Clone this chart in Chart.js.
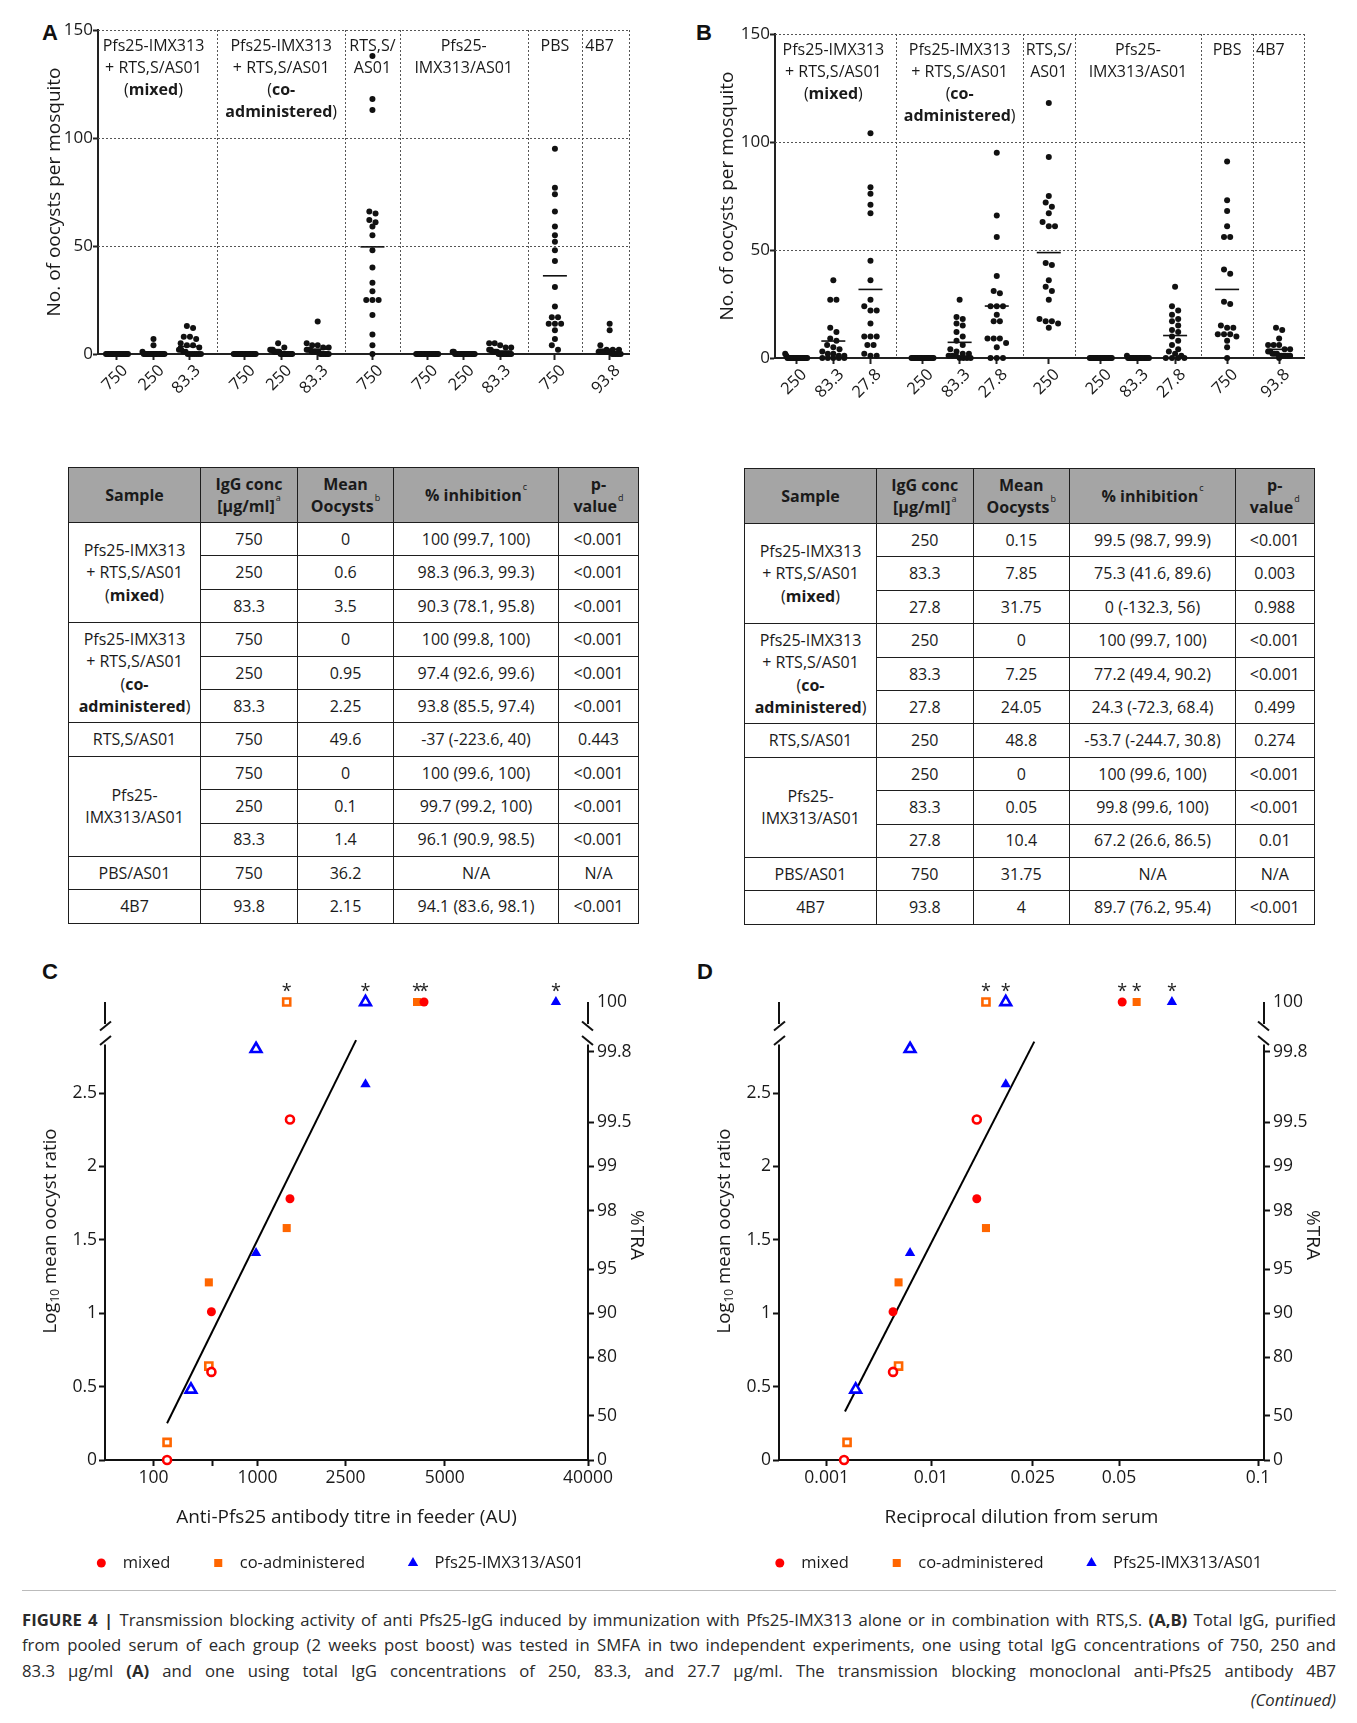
<!DOCTYPE html>
<html><head><meta charset="utf-8"><title>Figure 4</title>
<script src="https://cdn.jsdelivr.net/npm/chart.js@4.4.1/dist/chart.umd.min.js"></script>
<style>
html,body{margin:0;padding:0;background:#fff}
body{position:relative;width:1357px;height:1723px;overflow:hidden;font-family:'Open Sans',sans-serif;color:#1a1a1a}
canvas{position:absolute}
.lbl{position:absolute;font:bold 22px 'Liberation Sans',Arial,sans-serif;color:#111;line-height:24px}
table.t{position:absolute;border-collapse:collapse;table-layout:fixed;font-size:16px;line-height:22.5px;color:#1a1a1a}
table.t td,table.t th{border:1.5px solid #1e1e1e;text-align:center;vertical-align:middle;padding:0;overflow:visible;white-space:nowrap}
table.t th{background:#a5a5a5;font-weight:bold}
table.t sup{font-size:9px;line-height:0;vertical-align:top;position:relative;top:3px;font-weight:normal;margin-left:1px}
.rule{position:absolute;left:22px;width:1314px;top:1590px;height:0;border-top:1px solid #bbb}
.cap{position:absolute;left:22px;top:1607px;width:1314px;font-size:16.7px;line-height:25.3px;color:#2a2a2a}
.cap .j{text-align:justify;text-align-last:justify}
.cap .r{text-align:right;font-style:italic;margin-top:4px}
</style></head>
<body>
<div class="lbl" style="left:42px;top:21px">A</div>
<div class="lbl" style="left:696px;top:21px">B</div>
<div class="lbl" style="left:42px;top:960px">C</div>
<div class="lbl" style="left:697px;top:960px">D</div>
<canvas id="cA" width="680" height="440" style="left:0;top:0"></canvas>
<canvas id="cB" width="677" height="440" style="left:680px;top:0"></canvas>
<table class="t" id="tA" style="left:68px;top:467px"></table>
<table class="t" id="tB" style="left:744px;top:468px"></table>
<canvas id="cC" width="680" height="660" style="left:0;top:940px"></canvas>
<canvas id="cD" width="677" height="660" style="left:680px;top:940px"></canvas>
<div class="rule"></div>
<div class="cap">
<div class="j"><b>FIGURE 4 |</b> Transmission blocking activity of anti Pfs25-IgG induced by immunization with Pfs25-IMX313 alone or in combination with RTS,S. <b>(A,B)</b> Total IgG, purified</div>
<div class="j">from pooled serum of each group (2 weeks post boost) was tested in SMFA in two independent experiments, one using total IgG concentrations of 750, 250 and</div>
<div class="j">83.3 μg/ml <b>(A)</b> and one using total IgG concentrations of 250, 83.3, and 27.7 μg/ml. The transmission blocking monoclonal anti-Pfs25 antibody 4B7</div>
<div class="r">(Continued)</div>
</div>
<script>
// ---------------- DATA: panels A & B (oocysts per mosquito) ----------------
const groupTitles = [
  ['Pfs25-IMX313', '+ RTS,S/AS01', '(**mixed**)'],
  ['Pfs25-IMX313', '+ RTS,S/AS01', '(**co-**', '**administered**)'],
  ['RTS,S/', 'AS01'],
  ['Pfs25-', 'IMX313/AS01'],
  ['PBS'],
  ['4B7']
];
const oocystTicks = [0, 50, 100, 150];
const aConcs = [['750', '250', '83.3'], ['750', '250', '83.3'], ['750'], ['750', '250', '83.3'], ['750'], ['93.8']];
const aValues = [
  [0,0,0,0,0,0,0,0,0,0,0,0,0,0,0,0,0,0,0,0],
  [7,4,1,0,0,0,0,0,0,0,0,0,0,0,0,0,0,0,0,0],
  [13,12,8,8,7,5,4,4,3,2,2,1,1,0,0,0,0,0,0,0],
  [0,0,0,0,0,0,0,0,0,0,0,0,0,0,0,0,0,0,0,0],
  [5,3,2,2,2,1,1,1,1,1,0,0,0,0,0,0,0,0,0,0],
  [15,5,4,4,3,3,2,2,2,1,1,1,1,1,0,0,0,0,0,0],
  [138,118,113,66,65,62,61,59,55,48,40,33,29,25,25,25,18,9,4,0],
  [0,0,0,0,0,0,0,0,0,0,0,0,0,0,0,0,0,0,0,0],
  [1,1,0,0,0,0,0,0,0,0,0,0,0,0,0,0,0,0,0,0],
  [5,5,4,3,3,2,2,1,1,1,1,0,0,0,0,0,0,0,0,0],
  [95,77,74,66,59,55,52,48,43,31,22,17,17,14,14,14,11,7,4,2],
  [14,11,4,2,2,2,1,1,1,1,1,1,1,1,0,0,0,0,0,0]
];
const aMeans = [0, 0.6, 3.5, 0, 0.95, 2.25, 49.6, 0, 0.1, 1.4, 36.2, 2.15];

const bConcs = [['250', '83.3', '27.8'], ['250', '83.3', '27.8'], ['250'], ['250', '83.3', '27.8'], ['750'], ['93.8']];
const bValues = [
  [2,1,0,0,0,0,0,0,0,0,0,0,0,0,0,0,0,0,0,0],
  [36,27,27,14,12,9,8,6,5,4,3,2,2,1,1,0,0,0,0,0],
  [104,79,76,71,67,45,36,27,24,22,22,16,10,10,10,6,6,2,1,1],
  [0,0,0,0,0,0,0,0,0,0,0,0,0,0,0,0,0,0,0,0],
  [27,19,18,16,15,12,10,8,6,4,3,2,2,1,1,1,0,0,0,0],
  [95,66,56,38,31,30,24,24,24,20,17,17,9,9,9,7,5,0,0,0],
  [118,93,75,72,70,67,63,61,61,44,43,36,33,31,27,18,17,17,16,14],
  [0,0,0,0,0,0,0,0,0,0,0,0,0,0,0,0,0,0,0,0],
  [1,0,0,0,0,0,0,0,0,0,0,0,0,0,0,0,0,0,0,0],
  [33,24,22,20,18,17,15,13,12,10,8,6,4,3,2,1,0,0,0,0],
  [91,73,68,61,56,56,41,39,26,25,15,14,14,11,11,11,10,8,5,0],
  [14,13,9,6,6,6,4,4,3,3,2,2,2,1,1,1,1,1,1,0]
];
const bMeans = [0.15, 7.85, 31.75, 0, 7.25, 24.05, 48.8, 0, 0.05, 10.4, 31.75, 4];

// ---------------- DATA: tables ----------------
const tableHead = ['Sample', 'IgG conc<br>[µg/ml]<sup>a</sup>', 'Mean<br>Oocysts<sup>b</sup>', '% inhibition<sup>c</sup>', 'p-<br>value<sup>d</sup>'];
const tableSamples = [
  ['Pfs25-IMX313<br>+ RTS,S/AS01<br>(<b>mixed</b>)', 3],
  ['Pfs25-IMX313<br>+ RTS,S/AS01<br>(<b>co-<br>administered</b>)', 3],
  ['RTS,S/AS01', 1],
  ['Pfs25-<br>IMX313/AS01', 3],
  ['PBS/AS01', 1],
  ['4B7', 1]
];
const tableARows = [
  ['750', '0', '100 (99.7, 100)', '<0.001'],
  ['250', '0.6', '98.3 (96.3, 99.3)', '<0.001'],
  ['83.3', '3.5', '90.3 (78.1, 95.8)', '<0.001'],
  ['750', '0', '100 (99.8, 100)', '<0.001'],
  ['250', '0.95', '97.4 (92.6, 99.6)', '<0.001'],
  ['83.3', '2.25', '93.8 (85.5, 97.4)', '<0.001'],
  ['750', '49.6', '-37 (-223.6, 40)', '0.443'],
  ['750', '0', '100 (99.6, 100)', '<0.001'],
  ['250', '0.1', '99.7 (99.2, 100)', '<0.001'],
  ['83.3', '1.4', '96.1 (90.9, 98.5)', '<0.001'],
  ['750', '36.2', 'N/A', 'N/A'],
  ['93.8', '2.15', '94.1 (83.6, 98.1)', '<0.001']
];
const tableBRows = [
  ['250', '0.15', '99.5 (98.7, 99.9)', '<0.001'],
  ['83.3', '7.85', '75.3 (41.6, 89.6)', '0.003'],
  ['27.8', '31.75', '0 (-132.3, 56)', '0.988'],
  ['250', '0', '100 (99.7, 100)', '<0.001'],
  ['83.3', '7.25', '77.2 (49.4, 90.2)', '<0.001'],
  ['27.8', '24.05', '24.3 (-72.3, 68.4)', '0.499'],
  ['250', '48.8', '-53.7 (-244.7, 30.8)', '0.274'],
  ['250', '0', '100 (99.6, 100)', '<0.001'],
  ['83.3', '0.05', '99.8 (99.6, 100)', '<0.001'],
  ['27.8', '10.4', '67.2 (26.6, 86.5)', '0.01'],
  ['750', '31.75', 'N/A', 'N/A'],
  ['93.8', '4', '89.7 (76.2, 95.4)', '<0.001']
];

// ---------------- DATA: panels C & D (log10 mean oocyst ratio) ----------------
const Y_TOP = 3.12; // plotted position of 100 %TRA (above the axis break)
const logTicks = [0, 0.5, 1, 1.5, 2, 2.5];
const logTickLabels = ['0', '0.5', '1', '1.5', '2', '2.5'];
const traTickPos = [0, 0.301, 0.699, 1, 1.301, 1.699, 2, 2.301, 2.78, 3.12];
const traTickLabels = ['0', '50', '80', '90', '95', '98', '99', '99.5', '99.8', '100'];

const seriesNames = ['mixed', 'co-administered', 'Pfs25-IMX313/AS01'];
// filled = experiment A (750, 250, 83.3 µg/ml), open = experiment B (250, 83.3, 27.8 µg/ml)
const ratioMixedA = [Y_TOP, 1.78, 1.01];
const ratioMixedB = [2.32, 0.60, 0];
const ratioCoA = [Y_TOP, 1.58, 1.21];
const ratioCoB = [Y_TOP, 0.64, 0.12];
const ratioPfsA = [Y_TOP, 2.56, 1.41];
const ratioPfsB = [Y_TOP, 2.80, 0.48];

const titreTicks = [100, 365, 1000, 2500, 5000, 40000];
const titreTickLabels = ['100', '', '1000', '2500', '5000', '40000'];
const titreMixedA = [4324, 1401, 360];
const titreMixedB = [1401, 360, 135];
const titreCoA = [4118, 1354, 340];
const titreCoB = [1354, 340, 135];
const titrePfsA = [25100, 2873, 966];
const titrePfsB = [2873, 966, 229];
const titreFitX = [135, 2690];
const titreFitY = [0.25, 2.86];

const dilTicks = [0.001, 0.01, 0.025, 0.05, 0.1];
const dilTickLabels = ['0.001', '0.01', '0.025', '0.05', '0.1'];
const dilMixedA = [0.0508, 0.0151, 0.00433];
const dilMixedB = [0.0151, 0.00433, 0.00147];
const dilCoA = [0.0546, 0.0164, 0.00489];
const dilCoB = [0.0164, 0.00489, 0.00157];
const dilPfsA = [0.0651, 0.0196, 0.0063];
const dilPfsB = [0.0196, 0.0063, 0.0019];
const dilFitX = [0.0015, 0.0253];
const dilFitY = [0.33, 2.85];

// ---------------- tables ----------------
function buildTable(id, rows, widths) {
  const t = document.getElementById(id);
  let h = '<colgroup>' + widths.map(w => `<col style="width:${w}px">`).join('') + '</colgroup>';
  h += '<tr style="height:55px">' + tableHead.map(x => `<th>${x}</th>`).join('') + '</tr>';
  let r = 0;
  tableSamples.forEach(([html, span]) => {
    for (let k = 0; k < span; k++, r++) {
      h += '<tr style="height:33.4px">';
      if (k === 0) h += `<td rowspan="${span}">${html}</td>`;
      h += rows[r].map(c => `<td>${c.replace('<', '&lt;')}</td>`).join('') + '</tr>';
    }
  });
  t.innerHTML = h;
  t.style.width = widths.reduce((a, b) => a + b, 0) + 'px';
}
buildTable('tA', tableARows, [132, 97, 96, 165, 80]);
buildTable('tB', tableBRows, [132, 96.5, 96.5, 166, 78.5]);

// ---------------- Chart.js setup ----------------
Chart.defaults.font.family = "'Open Sans', sans-serif";
Chart.defaults.color = '#1a1a1a';
const FONT = "'Open Sans', sans-serif";

function drawRich(ctx, line, x0, y, size, align) {
  const parts = line.split('**');
  const fonts = parts.map((p, i) => `${i % 2 ? 'bold ' : ''}${size}px ${FONT}`);
  let w = 0;
  const ws = parts.map((p, i) => { ctx.font = fonts[i]; const m = ctx.measureText(p).width; w += m; return m; });
  let x = align === 'left' ? x0 : x0 - w / 2;
  parts.forEach((p, i) => { ctx.font = fonts[i]; ctx.fillText(p, x, y); x += ws[i]; });
}

function swarm(vals, center, pxX, pxY, d, maxW) {
  const s = vals.slice().sort((a, b) => b - a);
  const rows = [];
  s.forEach(v => {
    const r = rows[rows.length - 1];
    if (r && (r.v0 - v) * pxY < d * 0.9) r.items.push(v); else rows.push({v0: v, items: [v]});
  });
  const pts = [];
  rows.forEach(r => {
    const k = r.items.length;
    const sp = k > 1 ? Math.min(d, maxW / (k - 1)) : 0;
    r.items.forEach((v, i) => pts.push({x: center + (i - (k - 1) / 2) * sp / pxX, y: v}));
  });
  return pts;
}

const dotDecor = {
  id: 'dotDecor',
  beforeDatasetsDraw(chart, args, o) {
    const {ctx, chartArea: a, scales: {x, y}} = chart;
    ctx.save();
    ctx.strokeStyle = '#555'; ctx.lineWidth = 1; ctx.setLineDash([2, 2]);
    const ln = (x1, y1, x2, y2) => { ctx.beginPath(); ctx.moveTo(x1, y1); ctx.lineTo(x2, y2); ctx.stroke(); };
    y.ticks.forEach(t => { if (t.value > 0) { const py = Math.round(y.getPixelForValue(t.value)) + 0.5; ln(a.left, py, a.right, py); } });
    o.seps.forEach(s => { const px = Math.round(x.getPixelForValue(s)) + 0.5; ln(px, a.top, px, a.bottom); });
    const rx = Math.round(a.right) + 0.5; ln(rx, a.top, rx, a.bottom);
    ctx.setLineDash([]);
    ctx.fillStyle = '#1a1a1a'; ctx.textBaseline = 'middle'; ctx.textAlign = 'left';
    o.titles.forEach((lines, gi) => {
      const g = o.groups[gi];
      let cx = x.getPixelForValue((g.first + g.last) / 2), align = 'center';
      if (gi === o.titles.length - 1) { cx = x.getPixelForValue(o.seps[gi - 1]) + 3; align = 'left'; }
      lines.forEach((l, li) => drawRich(ctx, l, cx, a.top + 16 + li * 22, 16, align));
    });
    ctx.save();
    ctx.translate(a.left - o.yTitleOff, (a.top + a.bottom) / 2); ctx.rotate(-Math.PI / 2);
    ctx.font = `19px ${FONT}`; ctx.textAlign = 'center'; ctx.fillText('No. of oocysts per mosquito', 0, 0);
    ctx.restore();
    ctx.restore();
  }
};

function makeDotPlot(id, cfg) {
  const {concs, values, means, gap, xPad, area, W, H, yTitleOff} = cfg;
  const colPos = [], groups = [];
  let cur = 0;
  concs.forEach((g, gi) => {
    if (gi > 0) cur += gap;
    const first = cur;
    g.forEach((c, ci) => { if (ci > 0) cur += 1; colPos.push(cur); });
    groups.push({first, last: cur});
  });
  const seps = groups.slice(1).map((g, i) => (groups[i].last + g.first) / 2);
  const xMin = -xPad[0], xMax = cur + xPad[1];
  const pxX = (area.right - area.left) / (xMax - xMin);
  const pxY = (area.bottom - area.top) / 150;
  const labels = concs.flat();
  const dots = [];
  values.forEach((v, i) => dots.push(...swarm(v, colPos[i], pxX, pxY, 6.2, 22)));
  const meanPts = means.map((m, i) => ({x: colPos[i], y: m}));
  new Chart(document.getElementById(id), {
    type: 'scatter',
    data: {datasets: [
      {data: meanPts, pointStyle: 'line', pointRadius: 12, pointBorderColor: '#111', pointBorderWidth: 1.6, clip: false},
      {data: dots, pointStyle: 'circle', pointRadius: 3, pointBackgroundColor: '#111', pointBorderColor: '#111', pointBorderWidth: 0, clip: false}
    ]},
    options: {
      responsive: false, animation: false, devicePixelRatio: 1,
      layout: {padding: {top: area.top, right: W - area.right, left: 0, bottom: 0}},
      scales: {
        x: {type: 'linear', min: xMin, max: xMax,
          afterBuildTicks: s => { s.ticks = colPos.map(v => ({value: v})); },
          afterFit: s => { s.height = H - area.bottom; },
          ticks: {autoSkip: false, minRotation: 45, maxRotation: 45, labelOffset: 8, padding: 1, font: {size: 16.5}, color: '#1a1a1a',
            callback: (v, i) => labels[i]},
          grid: {drawOnChartArea: false, drawTicks: true, tickLength: 6, tickColor: '#222', tickWidth: 2},
          border: {display: true, color: '#222', width: 2}},
        y: {type: 'linear', min: 0, max: 150,
          afterBuildTicks: s => { s.ticks = oocystTicks.map(v => ({value: v})); },
          afterFit: s => { s.width = area.left; },
          ticks: {font: {size: 17}, padding: 0, color: '#1a1a1a'},
          grid: {drawOnChartArea: false, drawTicks: true, tickLength: 5, tickColor: '#222', tickWidth: 2},
          border: {display: true, color: '#222', width: 2}}
      },
      plugins: {legend: {display: false}, tooltip: {enabled: false},
        dotDecor: {seps, groups, titles: groupTitles, yTitleOff}}
    },
    plugins: [dotDecor]
  });
}

makeDotPlot('cA', {concs: aConcs, values: aValues, means: aMeans, gap: 1.5, xPad: [0.52, 0.53],
  area: {left: 98, top: 30, right: 629, bottom: 354}, W: 680, H: 440, yTitleOff: 43});
makeDotPlot('cB', {concs: bConcs, values: bValues, means: bMeans, gap: 1.4, xPad: [0.57, 0.67],
  area: {left: 95, top: 34, right: 624, bottom: 358}, W: 677, H: 440, yTitleOff: 47});

// ---------- segmented (broken log) x scale used by panels C and D ----------
class SegmentedScale extends Chart.LinearScale {
  static id = 'segmented';
  static defaults = {};
  determineDataLimits() {
    const b = this.options.breaks;
    this.min = b[0]; this.max = b[b.length - 1];
  }
  buildTicks() { return this.options.tickValues.map(v => ({value: v})); }
  _dec(value) {
    const b = this.options.breaks, w = this.options.weights;
    const tot = w.reduce((s, c) => s + c, 0);
    let acc = 0;
    for (let i = 0; i < w.length; i++) {
      if (value <= b[i + 1] || i === w.length - 1) {
        const t = (Math.log(value) - Math.log(b[i])) / (Math.log(b[i + 1]) - Math.log(b[i]));
        return (acc + t * w[i]) / tot;
      }
      acc += w[i];
    }
    return 1;
  }
  getPixelForValue(value) { return this.getPixelForDecimal(this._dec(value)); }
  getValueForPixel(pixel) {
    const d = this.getDecimalForPixel(pixel);
    const b = this.options.breaks, w = this.options.weights;
    const tot = w.reduce((s, c) => s + c, 0);
    let acc = 0;
    for (let i = 0; i < w.length; i++) {
      const f = w[i] / tot;
      if (d <= acc + f || i === w.length - 1) {
        const t = (d - acc) / f;
        return Math.exp(Math.log(b[i]) + t * (Math.log(b[i + 1]) - Math.log(b[i])));
      }
      acc += f;
    }
    return b[b.length - 1];
  }
}
Chart.register(SegmentedScale);

const traDecor = {
  id: 'traDecor',
  beforeDatasetsDraw(chart, args, o) {
    const {ctx, chartArea: a} = chart;
    const y = chart.scales.y;
    ctx.save();
    ctx.strokeStyle = '#111'; ctx.lineWidth = 2;
    const seg = (x1, y1, x2, y2) => { ctx.beginPath(); ctx.moveTo(x1, y1); ctx.lineTo(x2, y2); ctx.stroke(); };
    [[a.left, 1], [a.right, -1]].forEach(([ax, dir]) => {
      seg(ax, a.bottom + 1, ax, y.getPixelForValue(2.83));
      seg(ax, y.getPixelForValue(2.97), ax, y.getPixelForValue(Y_TOP));
      [2.956, 2.858].forEach(v => {
        const py = y.getPixelForValue(v);
        seg(ax - 5 * dir, py + 4.5, ax + 6 * dir, py - 4.5);
      });
    });
    ctx.restore();
  },
  afterDatasetsDraw(chart, args, o) {
    const {ctx, chartArea: a} = chart;
    ctx.save();
    // significance asterisks above 100 %TRA points
    ctx.fillStyle = '#222'; ctx.font = `18px ${FONT}`; ctx.textAlign = 'center'; ctx.textBaseline = 'alphabetic';
    chart.data.datasets.forEach((d, di) => {
      const meta = chart.getDatasetMeta(di);
      d.data.forEach((p, pi) => { if (p.y === Y_TOP) { const el = meta.data[pi]; ctx.fillText('*', el.x, el.y - 5); } });
    });
    ctx.fillStyle = '#1a1a1a'; ctx.textBaseline = 'middle';
    // left title with subscript
    ctx.save();
    ctx.translate(a.left - 54, (a.top + a.bottom) / 2); ctx.rotate(-Math.PI / 2);
    const parts = [['Log', 18.6, 0], ['10', 12, 5], [' mean oocyst ratio', 18.6, 0]];
    let tw = 0;
    const ws = parts.map(([t, s]) => { ctx.font = `${s}px ${FONT}`; const m = ctx.measureText(t).width; tw += m; return m; });
    let x = -tw / 2; ctx.textAlign = 'left';
    parts.forEach(([t, s, dy], i) => { ctx.font = `${s}px ${FONT}`; ctx.fillText(t, x, dy); x += ws[i]; });
    ctx.restore();
    // right title
    ctx.save();
    ctx.translate(a.right + 48, (a.top + a.bottom) / 2 + 4); ctx.rotate(Math.PI / 2);
    ctx.font = `19px ${FONT}`; ctx.textAlign = 'center'; ctx.fillText('%TRA', 0, 0);
    ctx.restore();
    // x title
    ctx.font = `19px ${FONT}`; ctx.textAlign = 'center';
    ctx.fillText(o.xTitle, (a.left + a.right) / 2, a.bottom + 58);
    // legend
    const items = chart.data.datasets.filter(d => d.legendLabel);
    ctx.font = `16.5px ${FONT}`; ctx.textAlign = 'left';
    const widths = items.map(d => ctx.measureText(d.legendLabel).width);
    const symGap = 21.5, itemGap = 48, half = 5;
    const total = half + items.reduce((s, d, i) => s + symGap + widths[i] + (i < items.length - 1 ? itemGap : 0), 0);
    let cx = chart.width / 2 - total / 2 + half;
    const ly = a.bottom + 103;
    items.forEach((d, i) => {
      ctx.fillStyle = d.pointBackgroundColor;
      Chart.helpers.drawPoint(ctx, {pointStyle: d.pointStyle, radius: d.pointRadius, borderWidth: 0, rotation: 0}, cx, ly);
      ctx.fillStyle = '#1a1a1a';
      ctx.fillText(d.legendLabel, cx + symGap, ly);
      cx += symGap + widths[i] + itemGap;
    });
    ctx.restore();
  }
};

const styles = [
  {style: 'circle', color: '#ff0000', r: 4.5, rOpen: 4},
  {style: 'rect', color: '#ff6600', r: 5.7, rOpen: 5},
  {style: 'triangle', color: '#0000ff', r: 6, rOpen: 6.2}
];

function makeTRA(id, cfg) {
  const {W, H, area, breaks, weights, ticks, tickLabels, xs, ys, fitX, fitY, xTitle} = cfg;
  const datasets = [];
  xs.forEach((pair, si) => {
    const st = styles[si];
    datasets.push({data: pair[0].map((x, i) => ({x, y: ys[si][0][i]})), pointStyle: st.style, pointRadius: st.r,
      pointBackgroundColor: st.color, pointBorderColor: st.color, pointBorderWidth: 0, clip: false, legendLabel: seriesNames[si]});
    datasets.push({data: pair[1].map((x, i) => ({x, y: ys[si][1][i]})), pointStyle: st.style, pointRadius: st.rOpen,
      pointBackgroundColor: '#ffffff', pointBorderColor: st.color, pointBorderWidth: 2.6, clip: false});
  });
  datasets.push({data: fitX.map((x, i) => ({x, y: fitY[i]})), showLine: true, borderColor: '#000', borderWidth: 2, pointRadius: 0, clip: false});
  new Chart(document.getElementById(id), {
    type: 'scatter',
    data: {datasets},
    options: {
      responsive: false, animation: false, devicePixelRatio: 1,
      layout: {padding: {top: area.top, right: 0, left: 0, bottom: 0}},
      scales: {
        x: {type: 'segmented', breaks, weights, tickValues: ticks,
          afterFit: s => { s.height = H - area.bottom; },
          ticks: {autoSkip: false, maxRotation: 0, minRotation: 0, padding: 2, font: {size: 17.5}, color: '#1a1a1a',
            callback: (v, i) => tickLabels[i]},
          grid: {drawOnChartArea: false, drawTicks: true, tickLength: 6, tickColor: '#111', tickWidth: 2},
          border: {display: true, color: '#111', width: 2}},
        y: {type: 'linear', min: 0, max: Y_TOP,
          afterBuildTicks: s => { s.ticks = logTicks.map(v => ({value: v})); },
          afterFit: s => { s.width = area.left; },
          ticks: {font: {size: 17.5}, padding: 2, color: '#1a1a1a', callback: (v, i) => logTickLabels[i]},
          grid: {drawOnChartArea: false, drawTicks: true, tickLength: 6, tickColor: '#111', tickWidth: 2},
          border: {display: false}},
        y2: {type: 'linear', position: 'right', min: 0, max: Y_TOP,
          afterBuildTicks: s => { s.ticks = traTickPos.map(v => ({value: v})); },
          afterFit: s => { s.width = W - area.right; },
          ticks: {font: {size: 17.5}, padding: 3, color: '#1a1a1a', callback: (v, i) => traTickLabels[i]},
          grid: {drawOnChartArea: false, drawTicks: true, tickLength: 6, tickWidth: 2,
            tickColor: c => (c.index === traTickPos.length - 1 ? 'rgba(0,0,0,0)' : '#111')},
          border: {display: false}}
      },
      plugins: {legend: {display: false}, tooltip: {enabled: false}, traDecor: {xTitle}}
    },
    plugins: [traDecor]
  });
}

makeTRA('cC', {W: 680, H: 660, area: {left: 105, top: 62, right: 588, bottom: 520},
  breaks: [34, 100, 1000, 2500, 5000, 40000], weights: [48.5, 104.1, 88, 99.2, 143.2],
  ticks: titreTicks, tickLabels: titreTickLabels,
  xs: [[titreMixedA, titreMixedB], [titreCoA, titreCoB], [titrePfsA, titrePfsB]],
  ys: [[ratioMixedA, ratioMixedB], [ratioCoA, ratioCoB], [ratioPfsA, ratioPfsB]],
  fitX: titreFitX, fitY: titreFitY, xTitle: 'Anti-Pfs25 antibody titre in feeder (AU)'});
makeTRA('cD', {W: 677, H: 660, area: {left: 99, top: 62, right: 584, bottom: 520},
  breaks: [0.00035, 0.001, 0.01, 0.025, 0.05, 0.1, 0.103], weights: [47.6, 104.4, 101.8, 86.2, 139, 6],
  ticks: dilTicks, tickLabels: dilTickLabels,
  xs: [[dilMixedA, dilMixedB], [dilCoA, dilCoB], [dilPfsA, dilPfsB]],
  ys: [[ratioMixedA, ratioMixedB], [ratioCoA, ratioCoB], [ratioPfsA, ratioPfsB]],
  fitX: dilFitX, fitY: dilFitY, xTitle: 'Reciprocal dilution from serum'});
</script>
</body></html>
